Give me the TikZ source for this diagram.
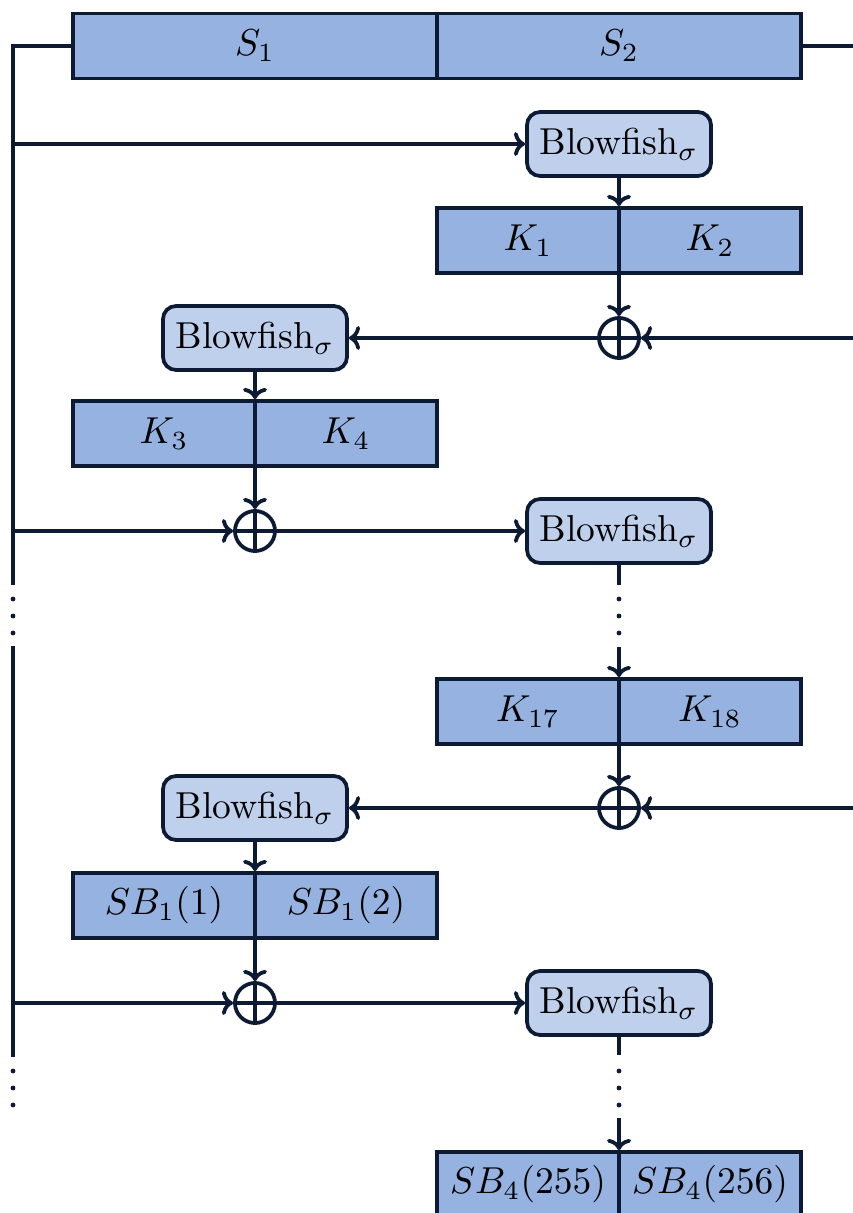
\documentclass[tikz,border=0pt]{standalone}
\usetikzlibrary{arrows.meta}
\definecolor{ln}{RGB}{12,27,51}
\definecolor{boxfill}{RGB}{149,178,224}
\definecolor{bffill}{RGB}{191,208,237}
\tikzset{
 cell/.style={draw=ln, fill=boxfill, line width=1pt, minimum height=17.33pt, inner sep=0pt},
 half/.style={cell, minimum width=97.07pt},
 quarter/.style={cell, minimum width=48.53pt},
 bf/.style={draw=ln, fill=bffill, rounded corners=3.5pt, line width=1pt, minimum width=49.07pt, minimum height=17.07pt, inner sep=0pt},
 xorc/.style={draw=ln, circle, line width=1pt, minimum size=10.67pt, inner sep=0pt},
 wire/.style={draw=ln, line width=1pt},
 arr/.style={wire, -{To[length=3pt,width=6.4pt]}},
 dotc/.style={fill=ln, circle, inner sep=0pt, minimum size=1.3pt}
}
\begin{document}
\begin{tikzpicture}[x=0.26667pt,y=-0.26667pt]
\useasboundingbox (0,0) rectangle (853,1213);
% top S box
\node[half] (s1) at (255,46) {$S_1$};
\node[half] (s2) at (619,46) {$S_2$};
% row nodes
\node[bf] (b1) at (619,144) {Blowfish$_\sigma$};
\node[quarter] (k1) at (528,240.5) {$K_1$};
\node[quarter] (k2) at (710,240.5) {$K_2$};
\node[xorc] (x1) at (619,338) {};
\node[bf] (b2) at (255,338) {Blowfish$_\sigma$};
\node[quarter] (k3) at (164,433.5) {$K_3$};
\node[quarter] (k4) at (346,433.5) {$K_4$};
\node[xorc] (x2) at (255,531) {};
\node[bf] (b3) at (619,531) {Blowfish$_\sigma$};
\node[quarter] (k17) at (528,711.5) {$K_{17}$};
\node[quarter] (k18) at (710,711.5) {$K_{18}$};
\node[xorc] (x3) at (619,808) {};
\node[bf] (b4) at (255,808) {Blowfish$_\sigma$};
\node[quarter] (sb1) at (164,905.5) {$SB_1(1)$};
\node[quarter] (sb2) at (346,905.5) {$SB_1(2)$};
\node[xorc] (x4) at (255,1003) {};
\node[bf] (b5) at (619,1003) {Blowfish$_\sigma$};
\node[quarter] (sb3) at (528,1184.5) {$SB_4(255)$};
\node[quarter] (sb4) at (710,1184.5) {$SB_4(256)$};
% xor crosses
\foreach \x in {x1,x2,x3,x4}{
  \draw[wire] (\x.north) -- (\x.south);
  \draw[wire] (\x.west) -- (\x.east);
}
% left rail coordinates
\coordinate (L0) at (13,46);
\coordinate (L1) at (13,144);
\coordinate (L2) at (13,531);
\coordinate (L3) at (13,585);
\coordinate (L4) at (13,646);
\coordinate (L5) at (13,1003);
\coordinate (L6) at (13,1057);
% right edge coordinates
\coordinate (R0) at (853,46);
\coordinate (R1) at (853,338);
\coordinate (R2) at (853,808);
% left rail
\draw[wire] (s1.west) -- (L0) -- (L3);
\draw[wire] (L4) -- (L6);
\foreach \y in {599,616,633,1071,1088,1105}
  \node[dotc] at (13,\y) {};
\draw[wire] (s2.east) -- (R0);
% round 1
\draw[arr] (L1) -- (b1.west);
\draw[arr] (b1.south) -- (b1.south |- k1.north);
\draw[arr] (b1.south |- k1.north) -- (x1.north);
\draw[arr] (R1) -- (x1.east);
\draw[arr] (x1.west) -- (b2.east);
\draw[arr] (b2.south) -- (b2.south |- k3.north);
\draw[arr] (b2.south |- k3.north) -- (x2.north);
\draw[arr] (L2) -- (x2.west);
\draw[arr] (x2.east) -- (b3.west);
% dotted descent 1
\coordinate (d1) at (619,585);
\coordinate (d2) at (619,647);
\draw[wire] (b3.south) -- (d1);
\foreach \y in {599,616,633}
  \node[dotc] at (619,\y) {};
\draw[arr] (d2) -- (d2 |- k17.north);
\draw[arr] (d2 |- k17.north) -- (x3.north);
\draw[arr] (R2) -- (x3.east);
\draw[arr] (x3.west) -- (b4.east);
\draw[arr] (b4.south) -- (b4.south |- sb1.north);
\draw[arr] (b4.south |- sb1.north) -- (x4.north);
\draw[arr] (L5) -- (x4.west);
\draw[arr] (x4.east) -- (b5.west);
% dotted descent 2
\coordinate (d3) at (619,1055);
\coordinate (d4) at (619,1118);
\draw[wire] (b5.south) -- (d3);
\foreach \y in {1071,1088,1105}
  \node[dotc] at (619,\y) {};
\draw[arr] (d4) -- (d4 |- sb3.north);
\end{tikzpicture}
\end{document}
